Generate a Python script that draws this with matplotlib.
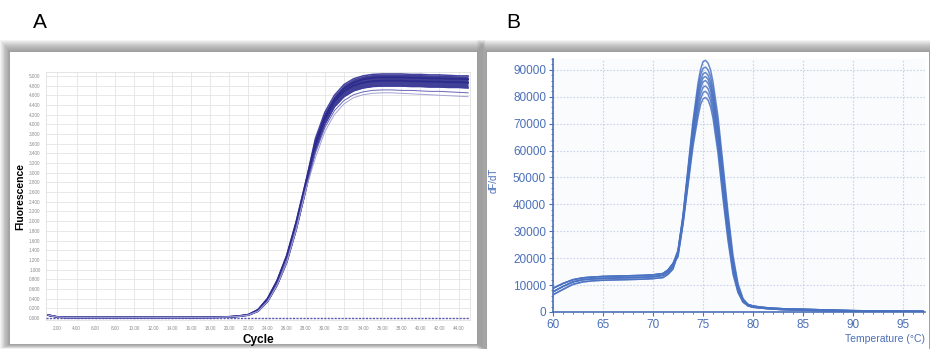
import matplotlib.pyplot as plt
from matplotlib.patches import Rectangle
from matplotlib.ticker import MultipleLocator, FormatStrFormatter

W, H = 930, 349

# ---- panel A: amplification curves (cycle vs fluorescence) ----
cycles = list(range(1, 46))

# cycles 1-28 (shared start of the rise)
early_fast = [0.06, 0.02, 0.01] + [0.01] * 14 + [0.012, 0.016, 0.025, 0.04, 0.07,
                                                0.17, 0.40, 0.77, 1.28, 1.98, 2.80]
early_slow = [0.06, 0.02, 0.01] + [0.01] * 14 + [0.012, 0.015, 0.022, 0.035, 0.06,
                                                0.14, 0.34, 0.68, 1.15, 1.83, 2.65]

# cycles 29-45 (plateau part, one list per curve)
plat_top = [3.70, 4.25, 4.60, 4.82, 4.94, 5.00, 5.03, 5.04, 5.04, 5.04, 5.03, 5.03, 5.02, 5.02, 5.01, 5.00, 5.00]
plat_upper = [3.62, 4.17, 4.52, 4.74, 4.86, 4.93, 4.96, 4.97, 4.97, 4.97, 4.96, 4.96, 4.95, 4.95, 4.94, 4.94, 4.93]
plat_mid = [3.55, 4.10, 4.47, 4.68, 4.80, 4.86, 4.89, 4.90, 4.90, 4.90, 4.89, 4.89, 4.88, 4.88, 4.87, 4.87, 4.86]
plat_low = [3.45, 4.00, 4.36, 4.57, 4.69, 4.75, 4.78, 4.79, 4.79, 4.79, 4.78, 4.78, 4.77, 4.77, 4.76, 4.76, 4.75]
plat_out1 = [3.40, 3.93, 4.28, 4.49, 4.61, 4.67, 4.70, 4.71, 4.71, 4.70, 4.70, 4.69, 4.68, 4.68, 4.67, 4.66, 4.65]
plat_out2 = [3.30, 3.85, 4.20, 4.42, 4.55, 4.61, 4.64, 4.65, 4.65, 4.64, 4.63, 4.62, 4.61, 4.60, 4.59, 4.58, 4.57]

amp_xticks = list(range(2, 45, 2))
amp_yticks = [i / 5 for i in range(0, 26)]

# ---- panel B: melt curves (temperature vs dF/dT) ----
temps = [60, 61, 62, 63, 64, 65, 66, 67, 68, 69, 70, 71, 71.5, 72,
         72.5, 73, 73.5, 74, 74.5, 74.75, 75, 75.25, 75.5, 75.75, 76, 76.5, 77, 77.5, 78, 78.5, 79,
         79.5, 80, 81, 82, 83, 85, 87, 90, 93, 97]

melt_low = [
    [8800, 10600, 12000, 12700, 13000, 13200, 13300, 13400, 13500, 13600, 13800, 14300, 15600, 18000],
    [7500, 9500, 11200, 12000, 12300, 12500, 12600, 12700, 12800, 12900, 13100, 13600, 14800, 17000],
    [6400, 8400, 10300, 11200, 11600, 11800, 11900, 12000, 12100, 12200, 12400, 12800, 14000, 16000],
]
melt_peak = [
    [23000, 36000, 53500, 71000, 85000, 90000, 93000, 93500, 92500, 90000, 85500, 72500, 55000, 37000, 21000, 10500, 5000],
    [22500, 35500, 52500, 69500, 83000, 88000, 90500, 91000, 90000, 87500, 83000, 70000, 52500, 35000, 19500, 9800, 4700],
    [22500, 35000, 52000, 68500, 81500, 86000, 88500, 89000, 88000, 85500, 81000, 68000, 50500, 33500, 18500, 9300, 4500],
    [22000, 34500, 51000, 67000, 80000, 84500, 87000, 87500, 86500, 84000, 79500, 66500, 49000, 32000, 17500, 8900, 4300],
    [22000, 34000, 50000, 66000, 78500, 83000, 85500, 86000, 85000, 82500, 78000, 65000, 48000, 31000, 17000, 8500, 4200],
    [21500, 33500, 49000, 64500, 76500, 81000, 83500, 84000, 83000, 80500, 76000, 63000, 46000, 29500, 16000, 8000, 4000],
    [21000, 33000, 48000, 63000, 74500, 79000, 81500, 82000, 81000, 78500, 74000, 61000, 44000, 28000, 15000, 7600, 3800],
    [20500, 32500, 47000, 61500, 72500, 77000, 79200, 79700, 78800, 76300, 72000, 59000, 42000, 26500, 14000, 7200, 3600],
]
melt_tail = [
    [2800, 2200, 1700, 1400, 1200, 1000, 800, 500, 350, 250],
    [2300, 1800, 1400, 1100, 900, 700, 500, 300, 200, 150],
]
# (low, peak, tail) combination for each well
melt_wells = [(0, 0, 0), (1, 1, 0), (2, 2, 1), (0, 3, 1), (1, 4, 0), (2, 5, 0), (1, 6, 1), (0, 7, 1)]


def box(x0, y0, x1, y1):
    # pixel box (top-left origin) -> figure fraction [left, bottom, width, height]
    return [x0 / W, 1 - y1 / H, (x1 - x0) / W, (y1 - y0) / H]


def panel_frame(x0, y0, x1, y1):
    for i in range(12, 0, -1):
        b = box(x0 - i * 0.8, y0 - i, x1 + i * 0.7, y1 + i * 0.4)
        fig.patches.append(Rectangle(b[:2], b[2], b[3], transform=fig.transFigure,
                                     facecolor="#6e6e6e", alpha=0.08, lw=0, zorder=-5))
    b = box(x0, y0, x1, y1)
    fig.patches.append(Rectangle(b[:2], b[2], b[3], transform=fig.transFigure,
                                 facecolor="white", lw=0, zorder=-4))


plt.rcParams['font.family'] = ['Liberation Sans', 'DejaVu Sans']
fig = plt.figure(figsize=(W / 100, H / 100), dpi=100)

panel_frame(10, 52, 477, 344)
panel_frame(487, 52, 929, 349)

fig.text(40 / W, 1 - 22 / H, "A", fontsize=15, ha="center", va="center")
fig.text(513 / W, 1 - 22 / H, "B", fontsize=15, ha="center", va="center")

# ---------- panel A ----------
axA = fig.add_axes(box(46, 72, 470, 320.4))
axA.set_facecolor("white")
navy = "#2d2c8c"

top_curve = early_fast + plat_top
low_curve = early_fast + plat_low
axA.fill_between(cycles, low_curve, top_curve, color=navy, alpha=0.9, lw=0, zorder=3)
for early, plat, col, lw in [(early_fast, plat_top, "#4443a0", 1.1),
                             (early_fast, plat_upper, navy, 1.3),
                             (early_slow, plat_mid, navy, 1.3),
                             (early_slow, plat_low, "#3f3e9c", 1.1),
                             (early_slow, plat_out1, "#6766b8", 0.7),
                             (early_slow, plat_out2, "#a3a2d6", 0.7)]:
    axA.plot(cycles, early + plat, color=col, lw=lw, zorder=4)

axA.axhline(0, color="#5b59b3", lw=1.0, ls=(0, (1.5, 1)), zorder=5)

axA.set_xlim(0.8, 45.2)
axA.set_ylim(-0.05, 5.08)
axA.set_xticks(amp_xticks)
axA.set_yticks(amp_yticks)
axA.xaxis.set_major_formatter(FormatStrFormatter("%.2f"))
axA.yaxis.set_major_formatter(FormatStrFormatter("%.3f"))
axA.tick_params(labelsize=3.3, labelcolor="#8a8a8a", length=0, pad=4)
axA.grid(True, color="#e4e4e4", lw=0.6)
axA.set_axisbelow(True)
for s in axA.spines.values():
    s.set_color("#e0e0e0")
    s.set_linewidth(0.6)
axA.set_xlabel("Cycle", fontsize=8.5, fontweight="bold", labelpad=2)
axA.set_ylabel("Fluorescence", fontsize=7.5, fontweight="bold", labelpad=3)

# ---------- panel B ----------
blue = "#4b6fb8"
axB = fig.add_axes(box(553, 59, 925, 312))
axB.set_facecolor("#fafbfd")
for li, pi, ti in melt_wells:
    axB.plot(temps, melt_low[li] + melt_peak[pi] + melt_tail[ti],
             color="#4a72c2", lw=1.1, alpha=0.85)

axB.set_xlim(60, 97.2)
axB.set_ylim(0, 94000)
axB.xaxis.set_major_locator(MultipleLocator(5))
axB.xaxis.set_minor_locator(MultipleLocator(1))
axB.yaxis.set_major_locator(MultipleLocator(10000))
axB.yaxis.set_minor_locator(MultipleLocator(2000))
axB.grid(True, which="major", color="#c9d3ea", lw=0.8, ls=(0, (1.5, 1.5)))
axB.set_axisbelow(True)
for side in ["top", "right"]:
    axB.spines[side].set_visible(False)
for side in ["left", "bottom"]:
    axB.spines[side].set_color(blue)
    axB.spines[side].set_linewidth(1.2)
axB.tick_params(which="major", length=3, width=0.8, color=blue, labelcolor=blue,
                labelsize=8.5, direction="out", pad=2)
axB.tick_params(which="minor", length=1.6, width=0.6, color=blue, direction="out")
axB.set_ylabel("dF/dT", fontsize=7, color=blue, labelpad=2)
axB.yaxis.set_label_coords(-0.145, 0.52)
fig.text(925 / W, 1 - 339 / H, "Temperature (\u00b0C)", fontsize=7.5, color=blue,
         ha="right", va="center")

fig.savefig("out.png", dpi=100)
